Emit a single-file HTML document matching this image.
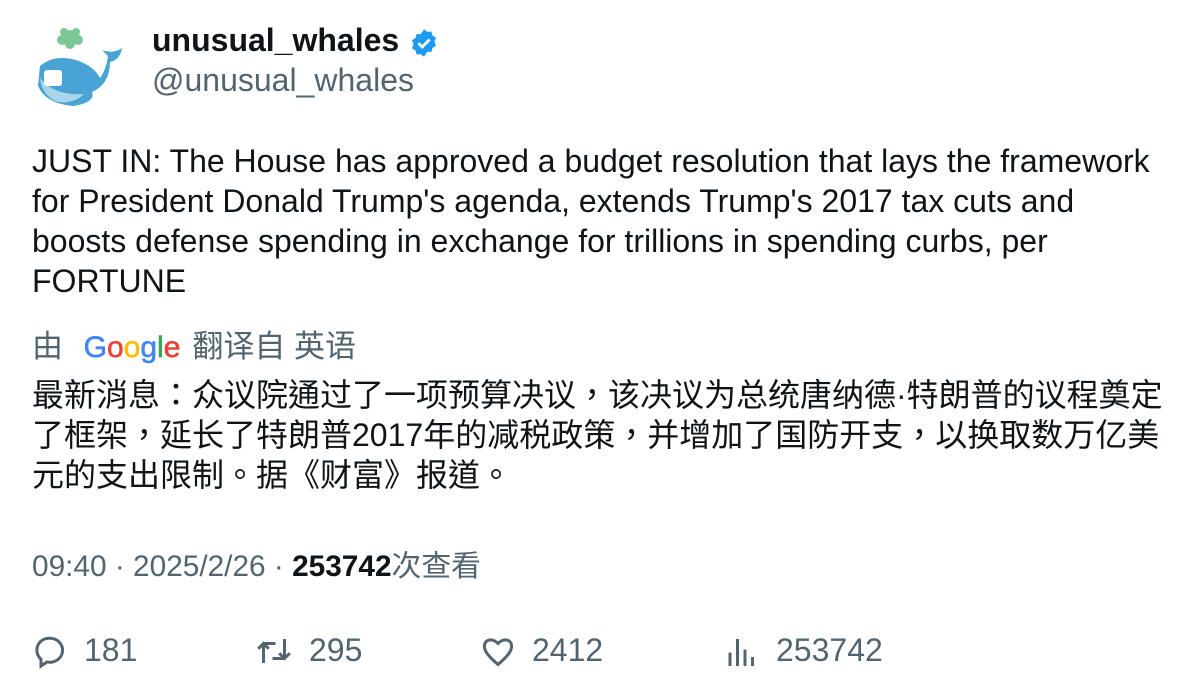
<!DOCTYPE html>
<html><head><meta charset="utf-8">
<style>
body{margin:0;width:1196px;height:698px;background:#fff;font-family:"Liberation Sans","Noto Sans CJK SC",sans-serif;color:#0f1419;overflow:hidden;position:relative}
.a{position:absolute;white-space:nowrap}
.g{color:#536471}
</style></head><body>
<svg class="a" style="left:34px;top:26px" width="92" height="84" viewBox="0 0 92 84">
<g fill="#7cc796"><circle cx="36" cy="10" r="6"/><circle cx="28" cy="14" r="5"/><circle cx="44" cy="14" r="5"/><circle cx="36" cy="18" r="5"/><circle cx="30" cy="6" r="4"/><circle cx="42" cy="6" r="4"/></g>
<path d="M6 40 Q20 28 42 34 Q60 40 66 52 Q72 44 74 30 L68 24 Q80 28 88 22 Q86 34 76 36 Q76 58 58 66 Q62 76 40 80 Q12 78 4 60 Z" fill="#4aa3d5"/>
<path d="M6 52 Q20 70 50 68 Q40 78 24 76 Q8 70 6 52Z" fill="#a8d5ec"/>
<rect x="10" y="44" width="18" height="16" fill="#fff" rx="3"/>
</svg>
<div class="a" style="left:152px;top:22px;font-size:32px;font-weight:bold">unusual_whales</div>
<svg class="a" style="left:409px;top:28px" width="30" height="30" viewBox="0 0 24 24"><path d="M12 1l2.6 2 3.3-.2.9 3.2 2.8 1.8-1.2 3.2 1.2 3.2-2.8 1.8-.9 3.2-3.3-.2L12 23l-2.6-2-3.3.2-.9-3.2-2.8-1.8 1.2-3.2-1.2-3.2 2.8-1.8.9-3.2 3.3.2z" fill="#1d9bf0"/><path d="M7.5 12.2l3 3 6-6" stroke="#fff" stroke-width="2.2" fill="none"/></svg>
<div class="a g" style="left:152px;top:62px;font-size:32px">@unusual_whales</div>
<div class="a" style="left:32px;top:141px;font-size:32px;line-height:40px">JUST IN: The House has approved a budget resolution that lays the framework<br>for President Donald Trump's agenda, extends Trump's 2017 tax cuts and<br>boosts defense spending in exchange for trillions in spending curbs, per<br>FORTUNE</div>
<div class="a g" style="left:32px;top:327px;font-size:31px;line-height:40px">由 <span style="font-size:30px;margin:0 12px 0 12px;-webkit-text-stroke:0.6px currentColor"><span style="color:#4285f4">G</span><span style="color:#ea4335">o</span><span style="color:#fbbc05">o</span><span style="color:#4285f4">g</span><span style="color:#34a853">l</span><span style="color:#ea4335">e</span></span>翻译自 英语</div>
<div class="a" style="left:32px;top:375px;font-size:32px;line-height:40px;font-family:'Liberation Sans','Noto Sans CJK TC',sans-serif">最新消息：众议院通过了一项预算决议，该决议为总统唐纳德·特朗普的议程奠定<br>了框架，延长了特朗普2017年的减税政策，并增加了国防开支，以换取数万亿美<br>元的支出限制。据《财富》报道。</div>
<div class="a g" style="left:32px;top:541px;font-size:29.8px">09:40 · 2025/2/26 · <b style="color:#0f1419">253742</b>次查看</div>
<div class="a g" style="left:32px;top:632px;font-size:32px"><svg width="36" height="36" viewBox="0 0 24 24" style="vertical-align:-8px;margin-right:16px"><path d="M12 3.5a8.5 8 0 1 1 -2 15.8L6 22v-4.5A8 8 0 0 1 12 3.5z" fill="none" stroke="#536471" stroke-width="2"/></svg>181</div>
<div class="a g" style="left:255px;top:632px;font-size:32px"><svg width="38" height="36" viewBox="0 0 24 24" style="vertical-align:-8px;margin-right:16px"><path d="M5 20V7M1.5 10.5L5 7l3.5 3.5M5 7h8M19 4v13M15.5 13.5L19 17l3.5-3.5M11 17h8" fill="none" stroke="#536471" stroke-width="2"/></svg>295</div>
<div class="a g" style="left:480px;top:632px;font-size:32px"><svg width="36" height="36" viewBox="0 0 24 24" style="vertical-align:-8px;margin-right:16px"><path d="M12 21C5 15 2.5 11.5 3 8c.5-3.5 5-5 9-1 4-4 8.5-2.5 9 1 .5 3.5-2 7-9 13z" fill="none" stroke="#536471" stroke-width="2"/></svg>2412</div>
<div class="a g" style="left:724px;top:632px;font-size:32px"><svg width="36" height="36" viewBox="0 0 24 24" style="vertical-align:-8px;margin-right:16px"><path d="M4 22v-9M9 22V4M14 22v-11M19 22v-6" stroke="#536471" stroke-width="2"/></svg>253742</div>
</body></html>
